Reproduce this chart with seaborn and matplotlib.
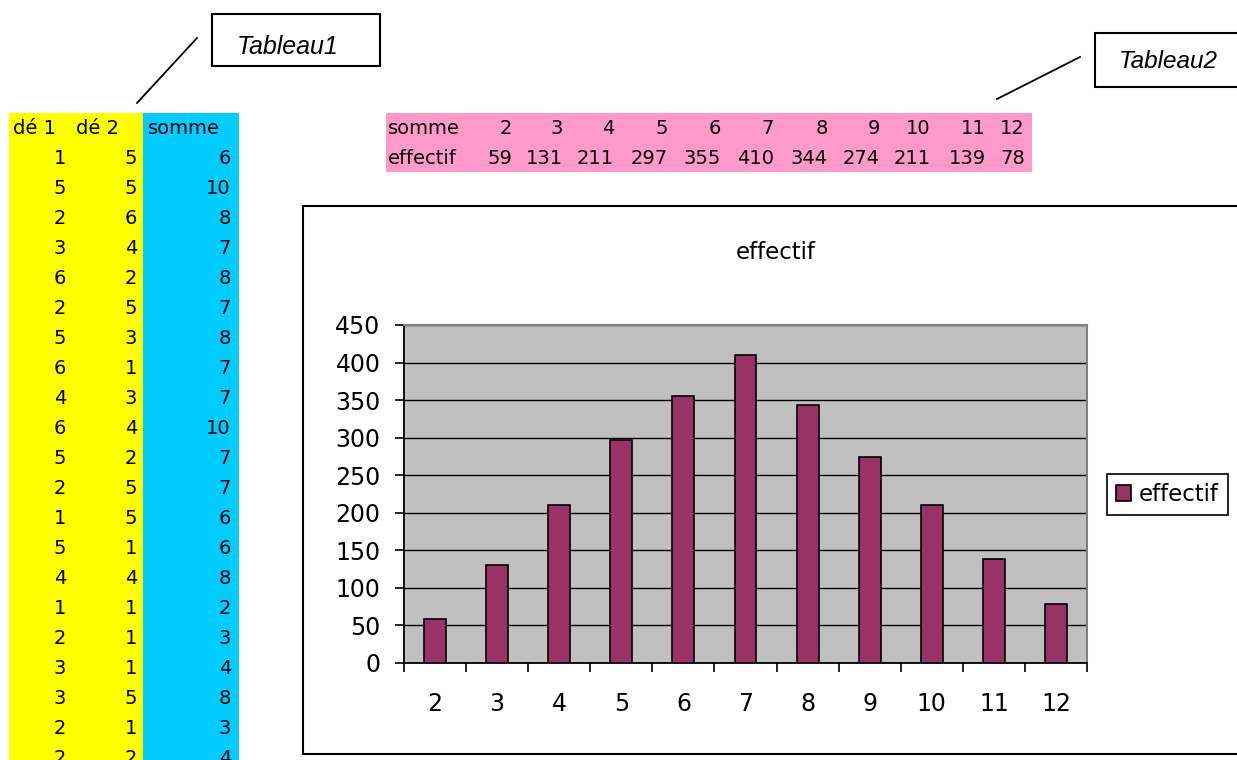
import matplotlib
matplotlib.use("Agg")
import matplotlib.pyplot as plt
import seaborn as sns
import pandas as pd
from matplotlib.patches import Rectangle
from matplotlib.lines import Line2D
from matplotlib.ticker import FixedLocator, NullFormatter

# ---------------- data ----------------
de1 = [1, 5, 2, 3, 6, 2, 5, 6, 4, 6, 5, 2, 1, 5, 4, 1, 2, 3, 3, 2, 2]
de2 = [5, 5, 6, 4, 2, 5, 3, 1, 3, 4, 2, 5, 5, 1, 4, 1, 1, 1, 5, 1, 2]
somme_t1 = [6, 10, 8, 7, 8, 7, 8, 7, 7, 10, 7, 7, 6, 6, 8, 2, 3, 4, 8, 3, 4]
somme = [2, 3, 4, 5, 6, 7, 8, 9, 10, 11, 12]
effectif = [59, 131, 211, 297, 355, 410, 344, 274, 211, 139, 78]
yticks = [0, 50, 100, 150, 200, 250, 300, 350, 400, 450]

W, H = 1237, 760
fig = plt.figure(figsize=(W / 100, H / 100), dpi=100)

def fx(x):
    return x / W

def fy(y):
    return 1 - y / H

def rect(x0, y0, x1, y1, **kw):
    r = Rectangle((fx(x0), fy(y1)), (x1 - x0) / W, (y1 - y0) / H,
                  transform=fig.transFigure, **kw)
    fig.add_artist(r)

def line(x0, y0, x1, y1, **kw):
    fig.add_artist(Line2D([fx(x0), fx(x1)], [fy(y0), fy(y1)],
                          transform=fig.transFigure, **kw))

TF = ["DejaVu Sans"]
tsize = 14

# ---------------- Tableau 1 ----------------
rect(9, 113, 143, 770, facecolor="#FFFF00", edgecolor="none", zorder=0)
rect(143, 113, 239, 770, facecolor="#00CCFF", edgecolor="none", zorder=0)
hb = 127 + 7
fig.text(fx(13), fy(hb), "dé 1", ha="left", va="baseline", fontsize=tsize, family=TF)
fig.text(fx(76), fy(hb), "dé 2", ha="left", va="baseline", fontsize=tsize, family=TF)
fig.text(fx(148), fy(hb), "somme", ha="left", va="baseline", fontsize=tsize, family=TF)
for i, (a, b, s) in enumerate(zip(de1, de2, somme_t1)):
    yb = 157 + 30 * i + 7
    fig.text(fx(66), fy(yb), str(a), ha="right", va="baseline", fontsize=tsize, family=TF)
    fig.text(fx(137), fy(yb), str(b), ha="right", va="baseline", fontsize=tsize, family=TF)
    fig.text(fx(231), fy(yb), str(s), ha="right", va="baseline", fontsize=tsize, family=TF)

# Tableau1 label
rect(212, 14, 380, 66, facecolor="white", edgecolor="black", linewidth=1.5, zorder=1)
fig.text(fx(237), fy(54), "Tableau1", ha="left", va="baseline", fontsize=18,
         family=["Liberation Sans", "DejaVu Sans"], style="italic")
line(197, 38, 137, 103, color="black", linewidth=1.3)

# ---------------- Tableau 2 ----------------
rect(386, 113, 1032, 172, facecolor="#FF99CC", edgecolor="none", zorder=0)
col_right = [512, 563, 614, 668, 721, 774, 828, 880, 931, 986, 1025]
fig.text(fx(388), fy(134), "somme", ha="left", va="baseline", fontsize=tsize, family=TF)
fig.text(fx(388), fy(164), "effectif", ha="left", va="baseline", fontsize=tsize, family=TF)
for xr, s, e in zip(col_right, somme, effectif):
    fig.text(fx(xr), fy(134), str(s), ha="right", va="baseline", fontsize=tsize, family=TF)
    fig.text(fx(xr), fy(164), str(e), ha="right", va="baseline", fontsize=tsize, family=TF)

rect(1095, 33, 1245, 87, facecolor="white", edgecolor="black", linewidth=1.5, zorder=1)
fig.text(fx(1119), fy(68), "Tableau2", ha="left", va="baseline", fontsize=17.5,
         family=["Liberation Sans", "DejaVu Sans"], style="italic")
line(1080, 57, 997, 99, color="black", linewidth=1.3)

# ---------------- chart ----------------
rect(303, 206, 1245, 754, facecolor="white", edgecolor="black", linewidth=1.5, zorder=0)
fig.text(fx(776), fy(259), "effectif", ha="center", va="baseline", fontsize=16.5, family=TF)

ax = fig.add_axes([fx(404), fy(663), (1087 - 404) / W, (663 - 325) / H])
ax.set_facecolor("#C0C0C0")
df = pd.DataFrame({"somme": [str(s) for s in somme], "effectif": effectif})
sns.barplot(data=df, x="somme", y="effectif", color="#993366", saturation=1,
            edgecolor="black", linewidth=1.2, width=0.354, ax=ax, zorder=3)
ax.set_xlim(-0.5, len(somme) - 0.5)
ax.set_ylim(0, 450)
ax.set_yticks(yticks)
ax.set_yticklabels([str(v) for v in yticks])
ax.yaxis.grid(True, color="black", linewidth=1.0, zorder=1)
ax.set_axisbelow(True)
ax.set_xlabel("")
ax.set_ylabel("")
ax.tick_params(axis="y", length=6.5, width=1.2, pad=10.5, labelsize=17, direction="out")
ax.tick_params(axis="x", which="major", length=0, pad=21, labelsize=17)
ax.xaxis.set_minor_locator(FixedLocator([i - 0.5 for i in range(len(somme) + 1)]))
ax.xaxis.set_minor_formatter(NullFormatter())
ax.tick_params(axis="x", which="minor", length=6.5, width=1.2, direction="out")
for lab in ax.get_xticklabels() + ax.get_yticklabels():
    lab.set_family(TF)
for side in ["left", "bottom"]:
    ax.spines[side].set_color("black")
    ax.spines[side].set_linewidth(1.3)
for side in ["top", "right"]:
    ax.spines[side].set_color("#808080")
    ax.spines[side].set_linewidth(1.5)

handle = ax.containers[0].patches[0]
leg = ax.legend(handles=[handle], labels=["effectif"], loc="upper left",
                bbox_to_anchor=(fx(1107), fy(474)), bbox_transform=fig.transFigure,
                borderaxespad=0, frameon=True, fancybox=False, framealpha=1,
                edgecolor="black", handlelength=0.65,
                handleheight=0.65, handletextpad=0.35, borderpad=0.4,
                prop={"family": TF, "size": 16.5})
leg.get_frame().set_linewidth(1.2)

fig.savefig("out.png", dpi=100)
